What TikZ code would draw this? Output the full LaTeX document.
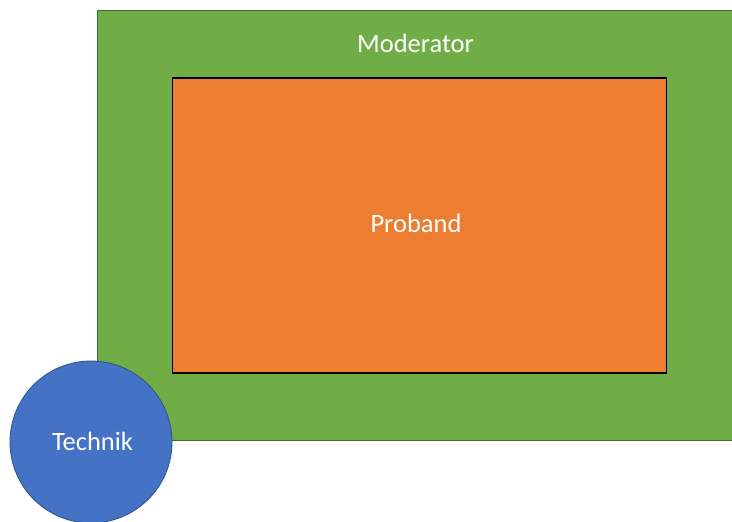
\documentclass[tikz,border=0pt]{standalone}
\usepackage{fontspec}
\setmainfont{Carlito}
\definecolor{modgreen}{HTML}{70AD47}
\definecolor{modedge}{HTML}{3F6B2A}
\definecolor{proborange}{HTML}{ED7D31}
\definecolor{techblue}{HTML}{4472C4}
\definecolor{techedge}{HTML}{2F528F}
\tikzset{
  area/.style={rectangle, inner sep=0pt, anchor=north west},
  lbl/.style={text=white, font=\fontsize{26.5}{30}\selectfont, anchor=base, inner sep=0pt}
}
\begin{document}
\begin{tikzpicture}[x=1pt, y=-1pt]
  \clip (0,0) rectangle (732,522);
  \fill[white] (0,0) rectangle (732,522);
  % outer area: moderator
  \node[area, fill=modgreen, draw=modedge, line width=1.2pt,
        minimum width=650pt, minimum height=430pt] (mod) at (96.5,9.5) {};
  % inner area: proband
  \node[area, fill=proborange, draw=black, line width=1.6pt,
        minimum width=494pt, minimum height=295pt] (prob) at (171.5,77) {};
  % technik circle overlapping the lower-left corner
  \node[circle, fill=techblue, draw=techedge, line width=0.8pt,
        minimum size=162pt, inner sep=0pt] (tech) at (91,442) {};
  \node[lbl] (modlabel) at (415.5,52.5) {Moderator};
  \node[lbl] (problabel) at (416,232.5) {Proband};
  \node[lbl] (techlabel) at (92.5,450) {Technik};
\end{tikzpicture}
\end{document}
